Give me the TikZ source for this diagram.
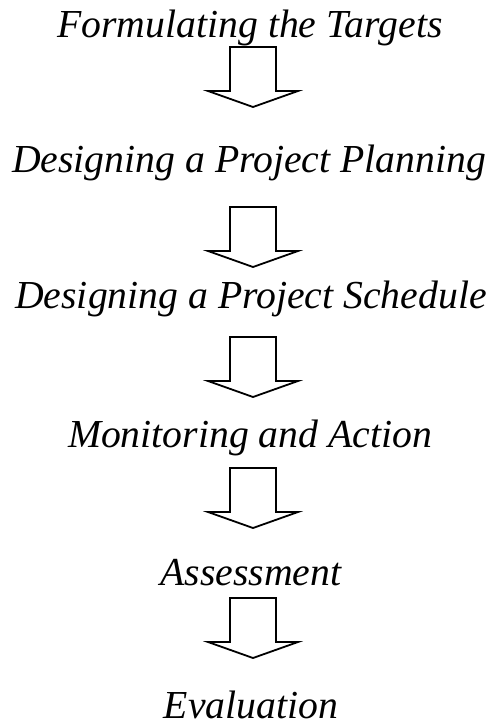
\documentclass[tikz,border=0pt]{standalone}
\usepackage{fontspec}
\setmainfont{Liberation Serif}
\begin{document}
\begin{tikzpicture}[x=1pt,y=-1pt,
  stage/.style={anchor=base,inner sep=0pt,font=\fontsize{39.7}{46}\selectfont\itshape},
  blockarrow/.style={draw=black,line width=1.8pt,line join=miter,fill=white}]
\useasboundingbox (0,0) rectangle (491,726);
% stage labels
\node[stage] (s1) at (250,37)  {Formulating the Targets};
\node[stage] (s2) at (249,172) {Designing a Project Planning};
\node[stage] (s3) at (251,308) {Designing a Project Schedule};
\node[stage] (s4) at (250,447) {Monitoring and Action};
\node[stage] (s5) at (251,585) {Assessment};
\node[stage] (s6) at (251,718) {Evaluation};
% top centre of each hollow down arrow
\coordinate (a1) at (253,47);
\coordinate (a2) at (253,207);
\coordinate (a3) at (253,337);
\coordinate (a4) at (253,468);
\coordinate (a5) at (253,598);
\foreach \a in {a1,a2,a3,a4,a5}{
  \draw[blockarrow] (\a) ++(-23,0) -- ++(0,44) -- ++(-22,0) -- ++(45,16)
    -- ++(45,-16) -- ++(-22,0) -- ++(0,-44) -- cycle;
}
\end{tikzpicture}
\end{document}
